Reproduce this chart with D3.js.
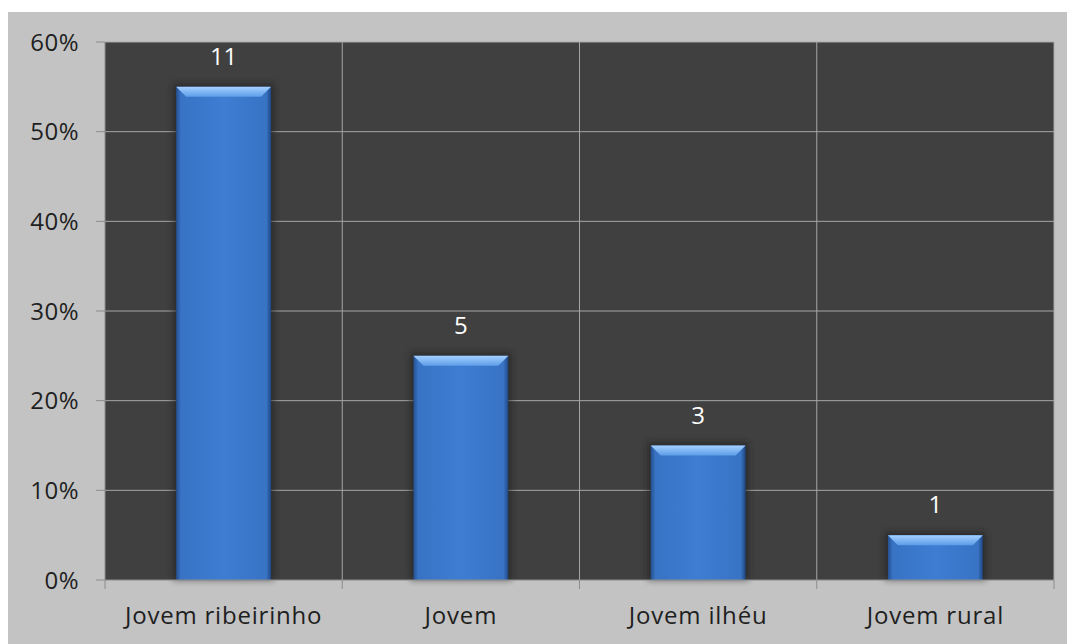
<!DOCTYPE html>
<html>
<head>
<meta charset="utf-8">
<script src="https://cdn.jsdelivr.net/npm/d3@7"></script>
<style>
  html, body { margin: 0; padding: 0; background: #ffffff; }
  svg text { font-family: "Open Sans", "Noto Sans", sans-serif; }
</style>
</head>
<body>
<div id="chart"></div>
<script>
// data
const categories = ["Jovem ribeirinho", "Jovem", "Jovem ilhéu", "Jovem rural"];
const percents = [55, 25, 15, 5];
const counts = [11, 5, 3, 1];
const yTicks = [0, 10, 20, 30, 40, 50, 60];

// sizes
const WIDTH = 1067;
const HEIGHT = 644;
const PLOT_LEFT = 105;
const PLOT_RIGHT = 1054;
const PLOT_TOP = 42;
const PLOT_BOTTOM = 580;
const BEVEL = 10;
const FONT_SIZE = 24;

const svg = d3.select("#chart").append("svg")
    .attr("width", WIDTH)
    .attr("height", HEIGHT);

// outer grey panel
svg.append("rect")
    .attr("x", 8).attr("y", 12)
    .attr("width", WIDTH - 8).attr("height", HEIGHT - 12)
    .attr("fill", "#c3c3c3");

const x = d3.scaleBand()
    .domain(categories)
    .range([PLOT_LEFT, PLOT_RIGHT])
    .paddingInner(0.6)
    .paddingOuter(0.3);

// outer band for gridlines (category boundaries)
const xCat = d3.scaleBand()
    .domain(categories)
    .range([PLOT_LEFT, PLOT_RIGHT]);

const y = d3.scaleLinear()
    .domain([0, 60])
    .range([PLOT_BOTTOM, PLOT_TOP]);

// gradients
const defs = svg.append("defs");
const bodyGrad = defs.append("linearGradient").attr("id", "barBody")
    .attr("x1", "0%").attr("x2", "100%").attr("y1", "0%").attr("y2", "0%");
bodyGrad.append("stop").attr("offset", "0%").attr("stop-color", "#24508f");
bodyGrad.append("stop").attr("offset", "5%").attr("stop-color", "#3873c4");
bodyGrad.append("stop").attr("offset", "50%").attr("stop-color", "#3e7dd3");
bodyGrad.append("stop").attr("offset", "95%").attr("stop-color", "#3873c4");
bodyGrad.append("stop").attr("offset", "100%").attr("stop-color", "#1f4680");

const topGrad = defs.append("linearGradient").attr("id", "barTop")
    .attr("x1", "0%").attr("x2", "0%").attr("y1", "0%").attr("y2", "100%");
topGrad.append("stop").attr("offset", "0%").attr("stop-color", "#a4d0ff");
topGrad.append("stop").attr("offset", "100%").attr("stop-color", "#5d9de8");

const shadow = defs.append("filter").attr("id", "shadow")
    .attr("x", "-20%").attr("y", "-20%").attr("width", "140%").attr("height", "140%");
shadow.append("feGaussianBlur").attr("stdDeviation", 3);

// plot background
svg.append("rect")
    .attr("x", PLOT_LEFT).attr("y", PLOT_TOP)
    .attr("width", PLOT_RIGHT - PLOT_LEFT).attr("height", PLOT_BOTTOM - PLOT_TOP)
    .attr("fill", "#404040");

// horizontal gridlines
svg.append("g").selectAll("line")
    .data(yTicks.filter(d => d > 0))
    .join("line")
    .attr("x1", PLOT_LEFT).attr("x2", PLOT_RIGHT)
    .attr("y1", d => y(d)).attr("y2", d => y(d))
    .attr("stroke", "#a6a6a6").attr("stroke-width", 1);

// vertical gridlines at category boundaries
svg.append("g").selectAll("line")
    .data(categories.slice(1))
    .join("line")
    .attr("x1", d => xCat(d)).attr("x2", d => xCat(d))
    .attr("y1", PLOT_TOP).attr("y2", PLOT_BOTTOM)
    .attr("stroke", "#a6a6a6").attr("stroke-width", 1);
svg.append("line")
    .attr("x1", PLOT_RIGHT).attr("x2", PLOT_RIGHT)
    .attr("y1", PLOT_TOP).attr("y2", PLOT_BOTTOM)
    .attr("stroke", "#a6a6a6");

// bars
const bars = svg.append("g").selectAll("g")
    .data(categories.map((c, i) => ({ cat: c, pct: percents[i], n: counts[i] })))
    .join("g");

bars.append("rect")
    .attr("x", d => x(d.cat) - 3)
    .attr("y", d => y(d.pct) - 3)
    .attr("width", x.bandwidth() + 6)
    .attr("height", d => y(0) - y(d.pct) + 3)
    .attr("fill", "#1a1a1a")
    .attr("opacity", 0.6)
    .attr("filter", "url(#shadow)");

bars.append("rect")
    .attr("x", d => x(d.cat))
    .attr("y", d => y(d.pct))
    .attr("width", x.bandwidth())
    .attr("height", d => y(0) - y(d.pct))
    .attr("fill", "url(#barBody)");

bars.append("polygon")
    .attr("points", d => {
        const x0 = x(d.cat), x1 = x0 + x.bandwidth(), t = y(d.pct);
        return [[x0, t], [x1, t], [x1 - BEVEL, t + BEVEL], [x0 + BEVEL, t + BEVEL]].join(" ");
    })
    .attr("fill", "url(#barTop)");

bars.append("text")
    .attr("x", d => x(d.cat) + x.bandwidth() / 2)
    .attr("y", d => y(d.pct) - 22)
    .attr("text-anchor", "middle")
    .attr("font-size", FONT_SIZE)
    .attr("fill", "#ffffff")
    .text(d => d.n);

// axes
svg.append("line")
    .attr("x1", PLOT_LEFT).attr("x2", PLOT_LEFT)
    .attr("y1", PLOT_TOP).attr("y2", PLOT_BOTTOM)
    .attr("stroke", "#8c8c8c");
svg.append("line")
    .attr("x1", PLOT_LEFT).attr("x2", PLOT_RIGHT)
    .attr("y1", PLOT_BOTTOM).attr("y2", PLOT_BOTTOM)
    .attr("stroke", "#8c8c8c");

const yAxis = svg.append("g").selectAll("g")
    .data(yTicks)
    .join("g");
yAxis.append("line")
    .attr("x1", PLOT_LEFT - 9).attr("x2", PLOT_LEFT)
    .attr("y1", d => y(d)).attr("y2", d => y(d))
    .attr("stroke", "#8c8c8c");
yAxis.append("text")
    .attr("x", 79)
    .attr("y", d => y(d))
    .attr("dy", "0.36em")
    .attr("text-anchor", "end")
    .attr("font-size", FONT_SIZE)
    .attr("letter-spacing", 0.5)
    .attr("fill", "#1f1f1f")
    .text(d => d + "%");

svg.append("g").selectAll("line")
    .data(categories.map(c => xCat(c)).concat([PLOT_RIGHT]))
    .join("line")
    .attr("x1", d => d).attr("x2", d => d)
    .attr("y1", PLOT_BOTTOM).attr("y2", PLOT_BOTTOM + 9)
    .attr("stroke", "#8c8c8c");

svg.append("g").selectAll("text")
    .data(categories)
    .join("text")
    .attr("x", d => xCat(d) + xCat.bandwidth() / 2)
    .attr("y", PLOT_BOTTOM + 44)
    .attr("text-anchor", "middle")
    .attr("font-size", FONT_SIZE)
    .attr("letter-spacing", 0.8)
    .attr("fill", "#1f1f1f")
    .text(d => d);
</script>
</body>
</html>
